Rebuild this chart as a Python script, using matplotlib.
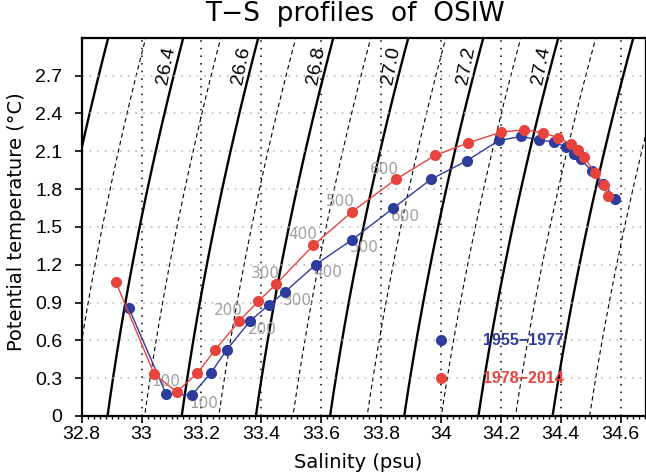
import numpy as np
import matplotlib
matplotlib.use('Agg')
import matplotlib.pyplot as plt

plt.rcParams['font.family'] = ['Liberation Sans', 'DejaVu Sans']

# profile 1955-1977 (blue)
sal_old = [32.958, 33.082, 33.168, 33.232, 33.284, 33.362, 33.426, 33.479, 33.582, 33.704,
           33.841, 33.966, 34.086, 34.194, 34.268, 34.326, 34.377, 34.418, 34.445, 34.468,
           34.504, 34.543, 34.581]
temp_old = [0.853, 0.174, 0.166, 0.343, 0.523, 0.752, 0.884, 0.984, 1.201, 1.399,
            1.649, 1.876, 2.024, 2.185, 2.217, 2.191, 2.172, 2.132, 2.080, 2.035,
            1.942, 1.842, 1.724]

# profile 1978-2014 (red)
sal_new = [32.914, 33.042, 33.117, 33.186, 33.245, 33.327, 33.390, 33.449, 33.574, 33.702,
           33.849, 33.980, 34.092, 34.201, 34.278, 34.340, 34.392, 34.434, 34.459, 34.478,
           34.515, 34.545, 34.557]
temp_new = [1.063, 0.333, 0.192, 0.338, 0.523, 0.755, 0.911, 1.045, 1.354, 1.618,
            1.876, 2.066, 2.167, 2.251, 2.270, 2.246, 2.207, 2.156, 2.106, 2.053,
            1.929, 1.834, 1.744]

depth_idx = [2, 5, 7, 8, 9, 10]
depth_txt = ['100', '200', '300', '400', '500', '600']

sig_solid = [26.0, 26.2, 26.4, 26.6, 26.8, 27.0, 27.2, 27.4, 27.6]
sig_dash = [25.9, 26.1, 26.3, 26.5, 26.7, 26.9, 27.1, 27.3, 27.5, 27.7]
sig_labels = [26.4, 26.6, 26.8, 27.0, 27.2, 27.4]

names = ['1955\u22121977', '1978\u22122014']
blue = '#2e3c9e'
red = '#e8433d'


def sigma0(S, T):
    # UNESCO 1980 density at surface pressure, minus 1000
    rw = (999.842594 + 6.793952e-2 * T - 9.095290e-3 * T**2 + 1.001685e-4 * T**3
          - 1.120083e-6 * T**4 + 6.536332e-9 * T**5)
    a = 0.824493 - 4.0899e-3 * T + 7.6438e-5 * T**2 - 8.2467e-7 * T**3 + 5.3875e-9 * T**4
    b = -5.72466e-3 + 1.0227e-4 * T - 1.6546e-6 * T**2
    return rw + a * S + b * S**1.5 + 4.8314e-4 * S**2 - 1000.0


fig = plt.figure(figsize=(6.46, 4.76), dpi=100)
ax = fig.add_axes([81.7 / 646, 60 / 476, 1 - 81.7 / 646, 378.3 / 476])

s = np.linspace(32.6, 34.9, 400)
t = np.linspace(-0.2, 3.2, 200)
SS, TT = np.meshgrid(s, t)
sig = sigma0(SS, TT)
ax.contour(SS, TT, sig, levels=sig_solid, colors='k', linewidths=1.7, zorder=1)
ax.contour(SS, TT, sig, levels=sig_dash, colors='k', linewidths=0.8,
           linestyles=[(0, (4, 3))], zorder=1)

t_lab = 2.78
row = sigma0(s, t_lab)
for lv in sig_labels:
    s_lab = np.interp(lv, row, s)
    ax.annotate('%.1f' % lv, (s_lab, t_lab), xytext=(-7, 0), textcoords='offset points',
                ha='center', va='center', rotation=79, fontsize=14, zorder=2)

ax.set_xlim(32.8, 34.685)
ax.set_ylim(0, 3.0)
ax.set_xticks(np.arange(32.8, 34.61, 0.2))
ax.set_xticklabels(['32.8', '33', '33.2', '33.4', '33.6', '33.8', '34', '34.2', '34.4', '34.6'])
ax.set_xticks(np.arange(32.8, 34.68, 0.02), minor=True)
ax.set_yticks(np.arange(0, 2.71, 0.3))
ax.set_yticklabels(['0', '0.3', '0.6', '0.9', '1.2', '1.5', '1.8', '2.1', '2.4', '2.7'])
ax.tick_params(axis='both', which='major', direction='out', length=5, width=1.2,
               labelsize=14)
ax.tick_params(axis='y', pad=9)
ax.tick_params(axis='x', pad=2)
ax.tick_params(axis='x', which='minor', direction='out', length=2.5, width=1)
ax.tick_params(axis='y', which='minor', left=False)
for sp in ax.spines.values():
    sp.set_linewidth(1.6)

for yv in np.arange(0.3, 2.71, 0.3):
    ax.axhline(yv, color='#b0b0b0', lw=1.1, ls=(0, (1, 4)), zorder=1.5)
for xv in np.arange(33.0, 34.61, 0.2):
    ax.axvline(xv, color='k', lw=1.1, ls=(0, (1, 4)), zorder=1.5)

ax.plot(sal_old, temp_old, '-', color=blue, lw=1, zorder=4)
ax.plot(sal_old, temp_old, 'o', color=blue, ms=8, mec='none', zorder=5)
ax.plot(sal_new, temp_new, '-', color=red, lw=1, zorder=6)
ax.plot(sal_new, temp_new, 'o', color=red, ms=8, mec='none', zorder=7)

for i, txt in zip(depth_idx, depth_txt):
    ax.annotate(txt, (sal_new[i], temp_new[i]), xytext=(2.5, 7.5), textcoords='offset points',
                ha='right', va='center', color='#a0a0a0', fontsize=11,
                family='DejaVu Sans', zorder=3)
    ax.annotate(txt, (sal_old[i], temp_old[i]), xytext=(-1.5, -6), textcoords='offset points',
                ha='left', va='center', color='#a0a0a0', fontsize=11,
                family='DejaVu Sans', zorder=3)

# legend
for yv, c, nm in [(0.6, blue, names[0]), (0.3, red, names[1])]:
    ax.plot([34.0], [yv], 'o', color=c, ms=8, mec='none', zorder=7)
    ax.text(34.14, yv, nm, color=c, fontsize=11.5, fontweight='bold',
            family='Liberation Sans', ha='left', va='center', zorder=7)

fig.text(355 / 646, 1 - 14 / 476, 'T\u2212S  profiles  of  OSIW', ha='center', va='center',
         fontsize=19, family='DejaVu Sans')
fig.text(358 / 646, 1 - 462 / 476, 'Salinity (psu)', ha='center', va='center',
         fontsize=14, family='DejaVu Sans')
fig.text(17 / 646, 1 - 222 / 476, 'Potential temperature (\u00b0C)', ha='center', va='center',
         rotation=90, fontsize=14, family='DejaVu Sans')

fig.savefig('out.png', dpi=100)
